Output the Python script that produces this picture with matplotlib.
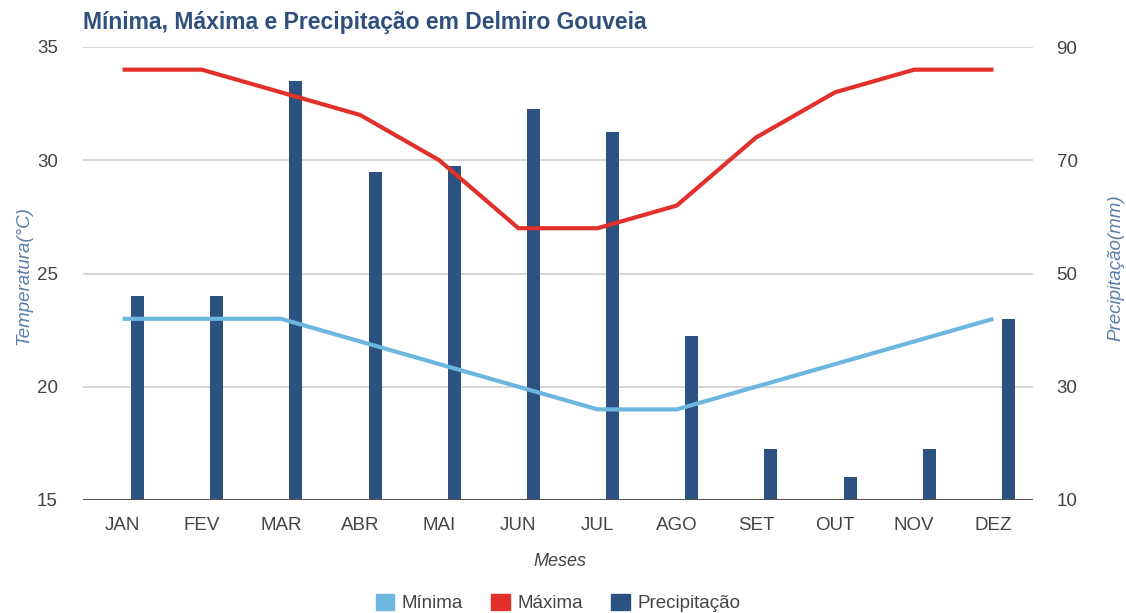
import matplotlib
matplotlib.use("Agg")
import matplotlib.pyplot as plt
import numpy as np
from matplotlib.patches import Patch

plt.rcParams['font.family'] = ['Liberation Sans', 'DejaVu Sans']

months = ["JAN", "FEV", "MAR", "ABR", "MAI", "JUN", "JUL", "AGO", "SET", "OUT", "NOV", "DEZ"]
minima = [23, 23, 23, 22, 21, 20, 19, 19, 20, 21, 22, 23]
maxima = [34, 34, 33, 32, 30, 27, 27, 28, 31, 33, 34, 34]
precip = [46, 46, 84, 68, 69, 79, 75, 39, 19, 14, 19, 42]
temp_ticks = [15, 20, 25, 30, 35]
precip_ticks = [10, 30, 50, 70, 90]

c_min = "#6cb6e0"
c_max = "#e2302b"
c_bar = "#2c5282"
c_text = "#444444"
c_axlab = "#5b7ea8"

fig = plt.figure(figsize=(11.26, 6.13), dpi=100)
ax = fig.add_axes([83/1126, 1-500/613, 950/1126, 453/613])
ax2 = ax.twinx()

x = np.arange(len(months))
ax2.bar(x + 0.19, precip, width=0.165, bottom=0, color=c_bar, zorder=2)
ax2.set_ylim(10, 90)
ax2.set_yticks(precip_ticks)

ax.plot(x, minima, color=c_min, lw=3, solid_capstyle='butt', zorder=3)
ax.plot(x, maxima, color=c_max, lw=3, solid_capstyle='butt', zorder=3)
ax.set_ylim(15, 35)
ax.set_yticks(temp_ticks)
ax.set_xlim(-0.5, 11.5)
ax.set_xticks(x)
ax.set_xticklabels(months)

ax.set_zorder(ax2.get_zorder() + 1)
ax.patch.set_visible(False)

for a in (ax, ax2):
    for s in a.spines.values():
        s.set_visible(False)
    a.tick_params(length=0, labelsize=13.5, labelcolor=c_text)
ax.tick_params(axis='y', pad=18)
ax2.tick_params(axis='y', pad=17)
ax.tick_params(axis='x', pad=12)

for t in temp_ticks[1:]:
    ax2.axhline(10 + (t - 15) * 4, color="#d0d0d0", lw=1.2, zorder=0)
ax2.axhline(10, color="#555555", lw=1.5, zorder=4)

fig.text(24/1126, 1-276/613, "Temperatura(°C)", fontsize=13.5, style='italic',
         color=c_axlab, rotation=90, ha='center', va='center')
fig.text(1116/1126, 1-268/613, "Precipitação(mm)", fontsize=13.5, style='italic',
         color=c_axlab, rotation=90, ha='center', va='center')
fig.text(560/1126, 1-562/613, "Meses", fontsize=13, style='italic', color=c_text,
         ha='center', va='center')

fig.text(83/1126, 1-22/613, "Mínima, Máxima e Precipitação em Delmiro Gouveia",
         fontsize=16.5, fontweight='bold', color="#2f4f7c", va='center', ha='left')

handles = [Patch(color=c_min, label="Mínima"), Patch(color=c_max, label="Máxima"),
           Patch(color=c_bar, label="Precipitação")]
fig.legend(handles=handles, loc='center', bbox_to_anchor=(558/1126, 1-603/613), ncol=3,
           frameon=False, fontsize=13.5, handlelength=1.0, handleheight=1.0,
           handletextpad=0.4, columnspacing=1.5, labelcolor=c_text)

fig.savefig("out.png", dpi=100)
